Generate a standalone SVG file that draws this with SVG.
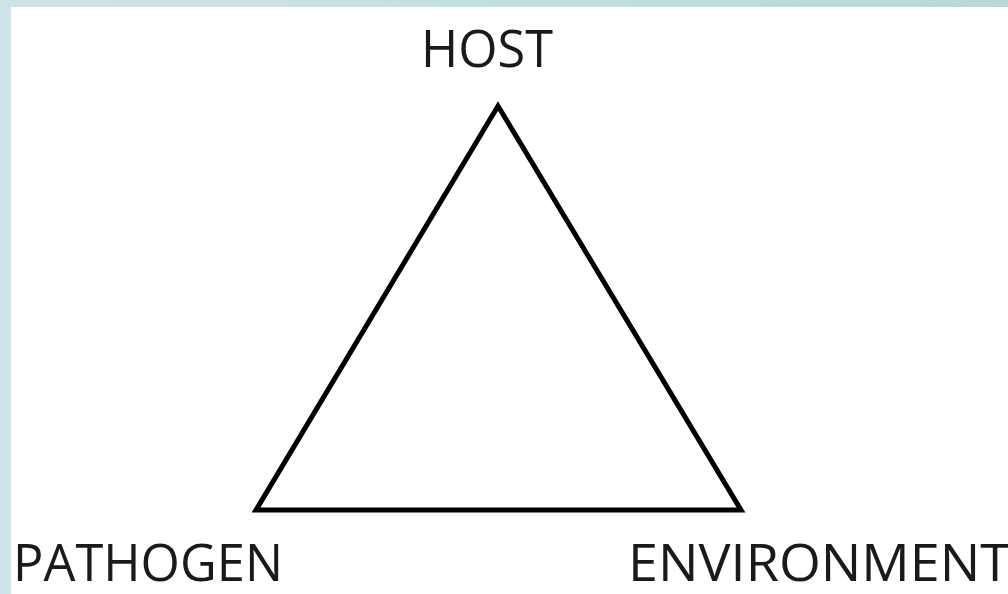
<svg xmlns="http://www.w3.org/2000/svg" width="1008" height="594" viewBox="0 0 1008 594">
<defs>
<linearGradient id="bg" x1="0" y1="0" x2="1" y2="0">
<stop offset="0" stop-color="#cfe4e6"/>
<stop offset="1" stop-color="#b7d9dc"/>
</linearGradient>
<style>
.lbl{font-family:"Open Sans","Liberation Sans",sans-serif;font-size:52px;fill:#1a1a1a}
.edge{fill:none;stroke:#000;stroke-width:5;stroke-linejoin:miter}
</style>
</defs>
<rect x="0" y="0" width="1008" height="594" fill="url(#bg)"/>
<rect x="11" y="7" width="997" height="587" fill="#ffffff"/>
<g id="connectors">
<polygon class="edge" points="498,106 256,510 741,510"/>
</g>
<g id="host"><text class="lbl" x="421" y="67" textLength="132" lengthAdjust="spacingAndGlyphs">HOST</text></g>
<g id="pathogen"><text class="lbl" x="13" y="581" textLength="270" lengthAdjust="spacingAndGlyphs">PATHOGEN</text></g>
<g id="environment"><text class="lbl" x="628" y="581" textLength="382" lengthAdjust="spacingAndGlyphs">ENVIRONMENT</text></g>
</svg>
